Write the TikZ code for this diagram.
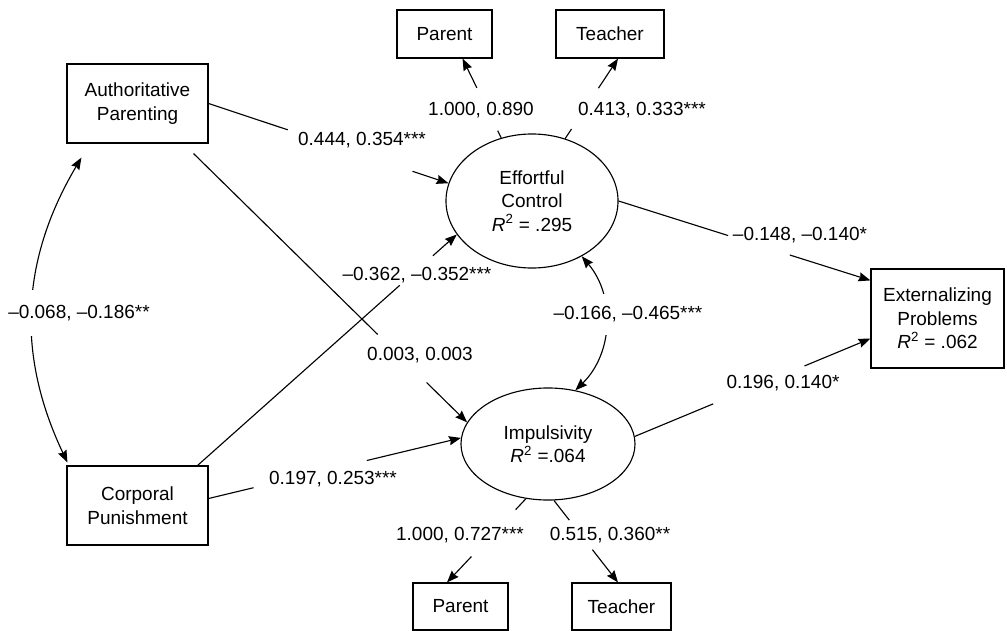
\documentclass[tikz,border=0pt]{standalone}
\usepackage{fontspec}
\setmainfont{Liberation Sans}
\usetikzlibrary{shapes.geometric,arrows.meta,positioning,calc}

\begin{document}
\begin{tikzpicture}[
    x=0.025cm, y=-0.025cm,
    every node/.style={font=\fontsize{13.5}{16.7}\selectfont},
    varbox/.style={draw=black, fill=white, line width=0.8pt, align=center, inner sep=2pt},
    latent/.style={ellipse, draw=black, fill=white, line width=0.8pt, align=center, inner sep=0pt},
    coef/.style={fill=white, inner sep=1pt},
    segline/.style={line width=0.8pt},
    arrline/.style={line width=0.8pt, -{Stealth[length=8.5pt, width=6.5pt, inset=1pt]}},
    covline/.style={line width=0.8pt, {Stealth[length=8.5pt, width=6.5pt, inset=1pt]}-{Stealth[length=8.5pt, width=6.5pt, inset=1pt]}}
]
\useasboundingbox (0,0) rectangle (1007,631);

% Observed predictors
\node[varbox, minimum width=3.525cm, minimum height=1.975cm] (auth) at (137.5,103.5) {Authoritative\\Parenting};
\node[varbox, minimum width=3.525cm, minimum height=1.975cm] (corp) at (137.5,505.5) {Corporal\\Punishment};

% Latent variables
\node[latent, minimum width=4.3cm, minimum height=3.35cm] (effc) at (532,201) {Effortful\\Control\\\textit{R}\textsuperscript{2} = .295};
\node[latent, minimum width=4.35cm, minimum height=2.8cm] (impu) at (548,444) {Impulsivity\\\textit{R}\textsuperscript{2} =.064};

% Outcome
\node[varbox, minimum width=3.325cm, minimum height=2.475cm] (extp) at (937.5,318.5) {Externalizing\\Problems\\\textit{R}\textsuperscript{2} = .062};

% Indicators
\node[varbox, minimum width=2.375cm, minimum height=1.2cm] (effpar) at (444.5,34) {Parent};
\node[varbox, minimum width=2.7cm, minimum height=1.2cm] (efftea) at (610,34) {Teacher};
\node[varbox, minimum width=2.375cm, minimum height=1.175cm] (imppar) at (460.5,606.5) {Parent};
\node[varbox, minimum width=2.475cm, minimum height=1.175cm] (imptea) at (621.5,606.5) {Teacher};

% Structural paths (broken around their coefficients)
\draw[segline] (auth.east) -- ($(auth.east)!0.33!(effc.168)$);
\draw[arrline] ($(auth.east)!0.85!(effc.168)$) -- (effc.168);

\coordinate (authse) at ($(auth.south east)+(-15,10)$);
\draw[segline] (authse) -- ($(authse)!0.673!(impu.165)$);
\draw[arrline] ($(authse)!0.852!(impu.165)$) -- (impu.165);

\coordinate (corpne) at ($(corp.north east)+(-11,0)$);
\draw[segline] (corpne) -- ($(corpne)!0.78!(effc.204)$);
\draw[arrline] ($(corpne)!0.908!(effc.204)$) -- (effc.204);

\coordinate (corpe) at ($(corp.east)+(0,-7)$);
\draw[segline] (corpe) -- ($(corpe)!0.178!(impu.176)$);
\draw[arrline] ($(corpe)!0.627!(impu.176)$) -- (impu.176);

\coordinate (extnw) at ($(extp.north west)+(0,12)$);
\draw[segline] (effc.east) -- ($(effc.east)!0.435!(extnw)$);
\draw[arrline] ($(effc.east)!0.68!(extnw)$) -- (extnw);

\coordinate (extsw) at ($(extp.south west)+(0,-30)$);
\draw[segline] (impu.5) -- ($(impu.5)!0.333!(extsw)$);
\draw[arrline] ($(impu.5)!0.72!(extsw)$) -- (extsw);

% Measurement paths
\coordinate (effpar-in) at ($(effpar.south east)+(-30,0)$);
\draw[segline] (effc.116) -- ($(effc.116)!0.09!(effpar-in)$);
\draw[arrline] ($(effc.116)!0.63!(effpar-in)$) -- (effpar-in);

\coordinate (efftea-in) at ($(efftea.south)+(8,0)$);
\draw[segline] (effc.62) -- ($(effc.62)!0.12!(efftea-in)$);
\draw[arrline] ($(effc.62)!0.63!(efftea-in)$) -- (efftea-in);

\coordinate (imppar-in) at ($(imppar.north)+(-13.5,0)$);
\draw[segline] (impu.248) -- ($(impu.248)!0.13!(imppar-in)$);
\draw[arrline] ($(impu.248)!0.69!(imppar-in)$) -- (imppar-in);

\coordinate (imptea-in) at ($(imptea.north)+(-3.5,0)$);
\draw[segline] (impu.276) -- ($(impu.276)!0.24!(imptea-in)$);
\draw[arrline] ($(impu.276)!0.6!(imptea-in)$) -- (imptea-in);

% Covariances
\draw[covline] ($(auth.south west)+(15,14)$) to[bend right=28] ($(corp.north west)+(1,-3)$);
\draw[covline] (effc.312) to[bend left=43] (impu.63);

% Coefficients
\node[coef] (b-ae) at (362,140) {0.444, 0.354***};
\node[coef] (b-ai) at (420,355) {0.003, 0.003};
\node[coef] (b-ce) at (417,275) {–0.362, –0.352***};
\node[coef] (b-ci) at (333,479) {0.197, 0.253***};
\node[coef] (b-ex) at (800,235) {–0.148, –0.140*};
\node[coef] (b-ix) at (783,383) {0.196, 0.140*};
\node[coef] (l-ep) at (481,110) {1.000, 0.890};
\node[coef] (l-et) at (642,110) {0.413, 0.333***};
\node[coef] (l-ip) at (460,535) {1.000, 0.727***};
\node[coef] (l-it) at (610,535) {0.515, 0.360**};
\node[coef, inner ysep=10.5pt] (r-ac) at (79,313) {–0.068, –0.186**};
\node[coef, inner ysep=9pt] (r-ei) at (628,314) {–0.166, –0.465***};

\end{tikzpicture}
\end{document}
